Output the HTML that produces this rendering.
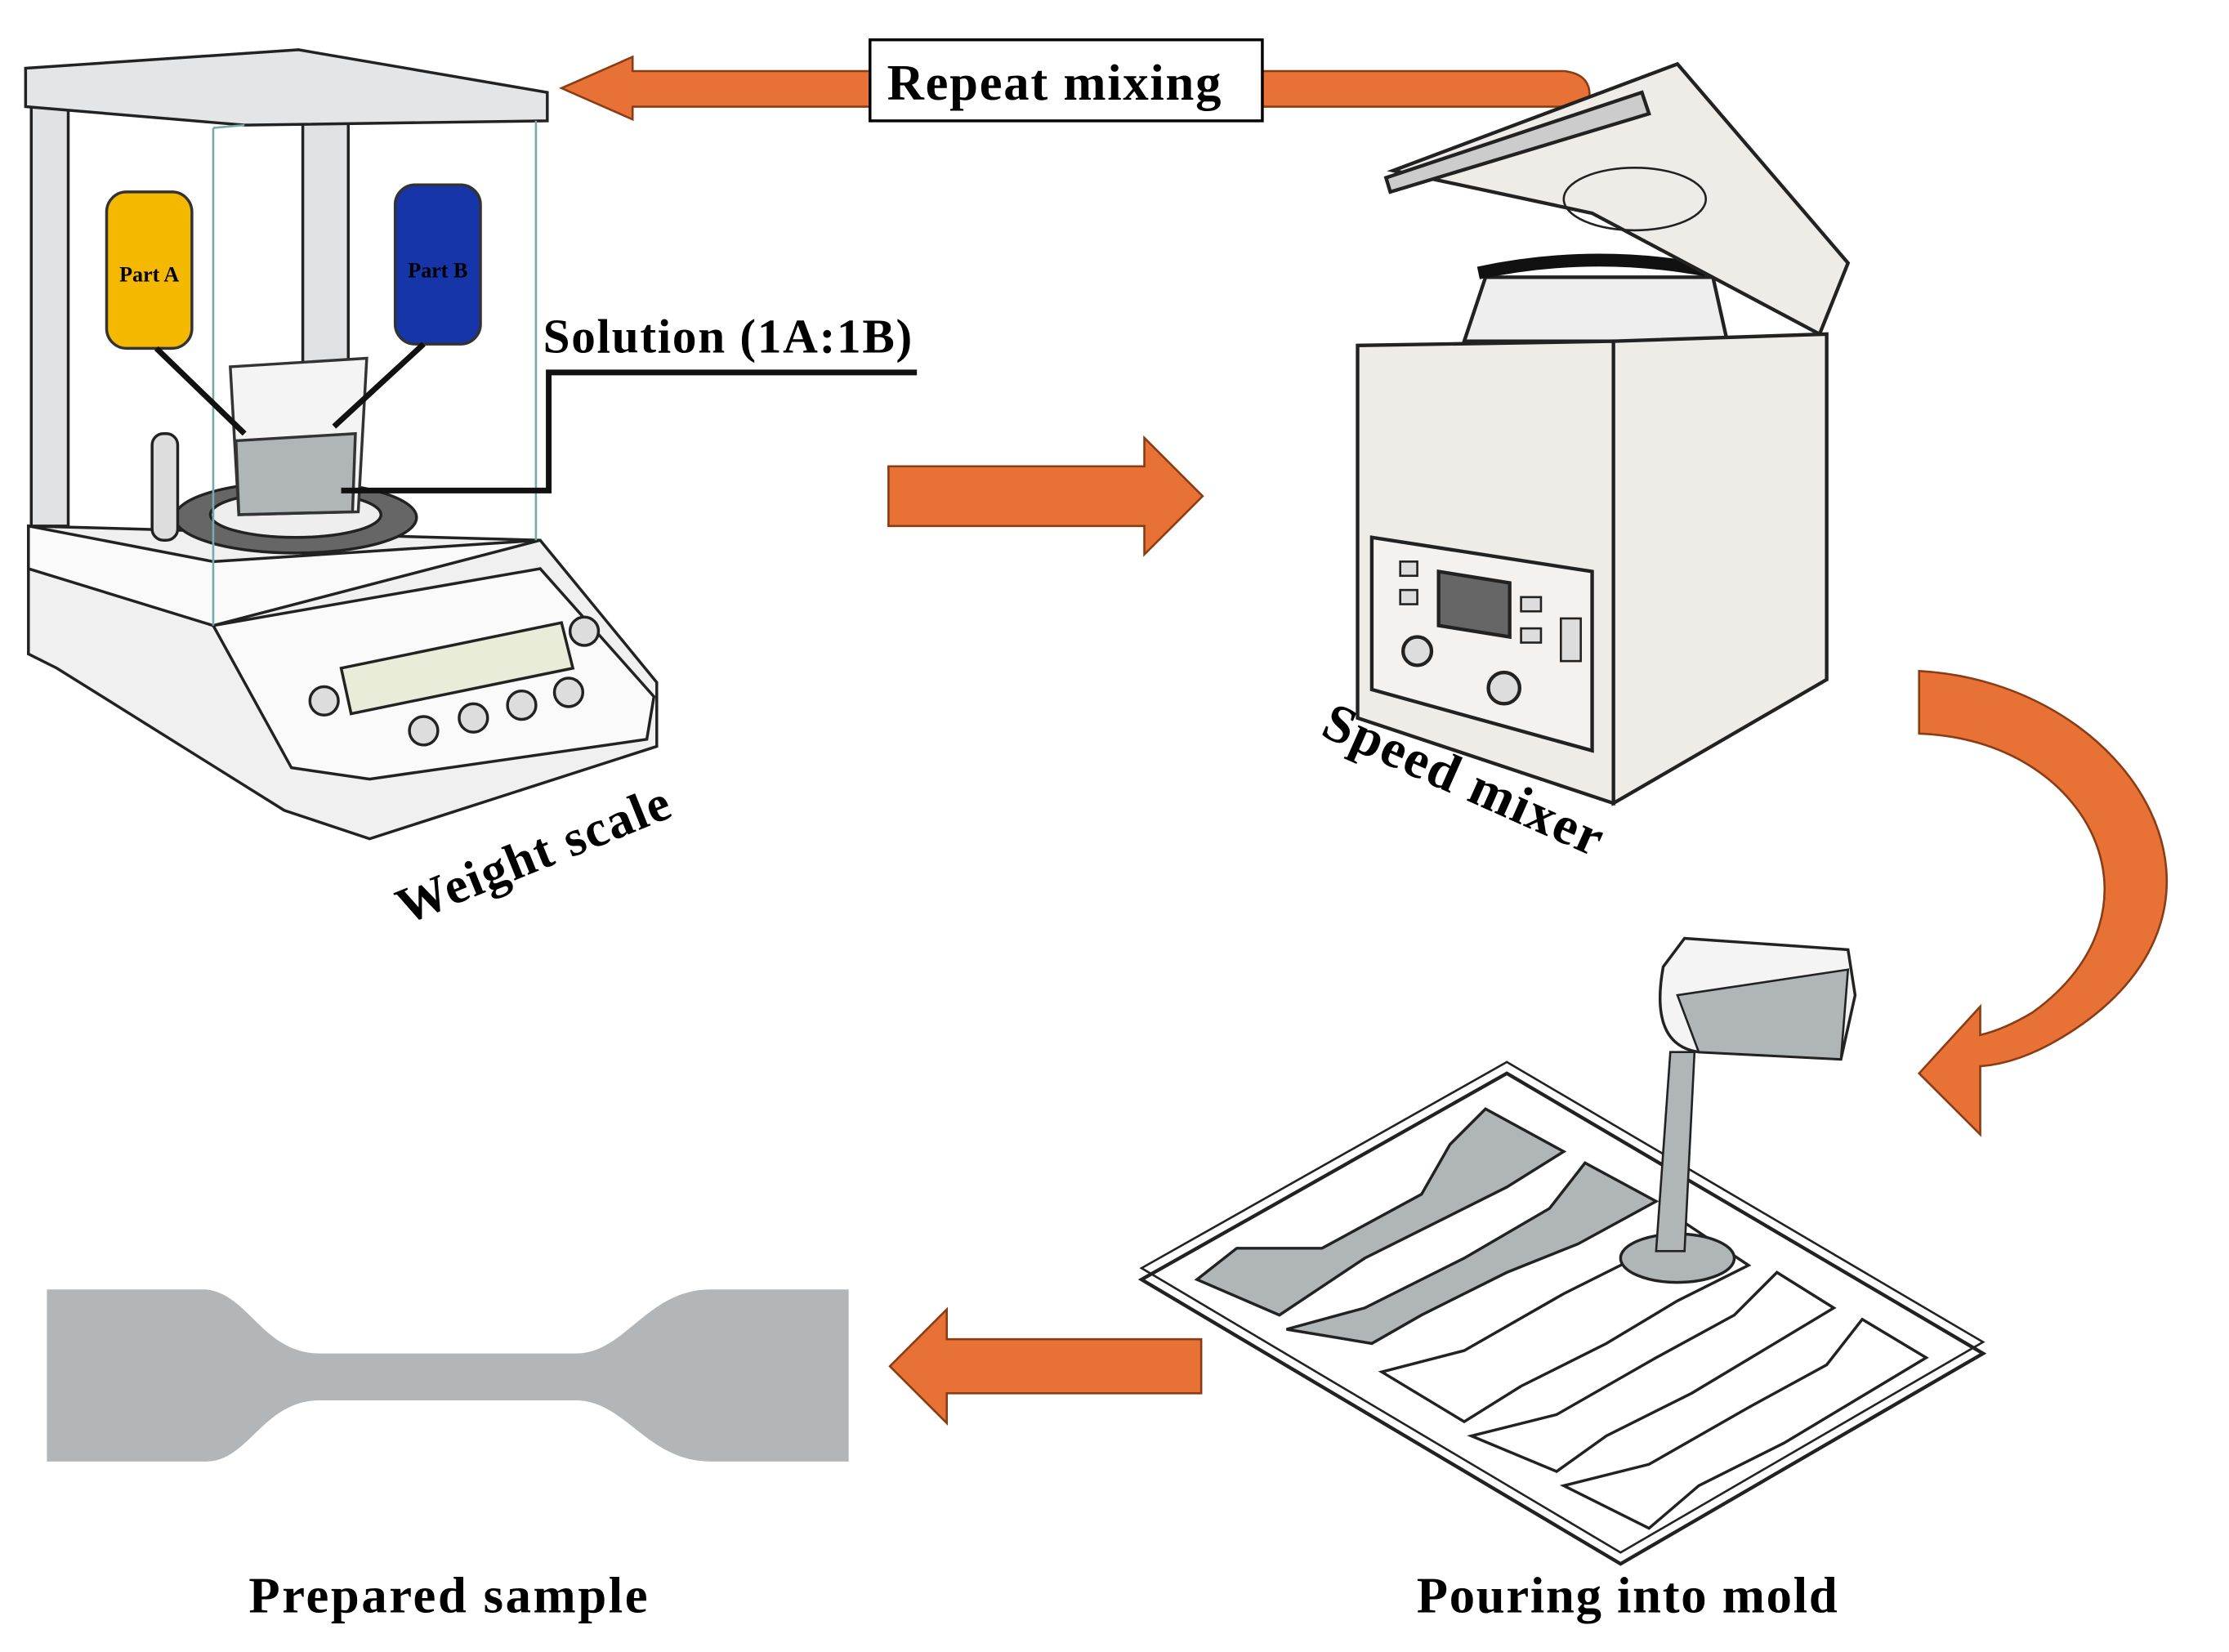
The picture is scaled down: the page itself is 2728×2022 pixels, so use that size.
<!DOCTYPE html>
<html><head><meta charset="utf-8"><style>html,body{margin:0;padding:0;background:#fff}svg{display:block}</style></head>
<body>
<svg width="2728" height="2022" viewBox="0 0 1568 1162" preserveAspectRatio="none" xmlns="http://www.w3.org/2000/svg" font-family="Liberation Serif, serif">
<rect width="1568" height="1162" fill="#fff"/>
<!-- Repeat mixing arrow -->
<path d="M888,50 L1100,50 Q1120,52 1118,70 L1118,75 L888,75 Z" fill="#E87235" stroke="#8a3d15" stroke-width="1.5"/>
<path d="M612,50 L445,50 L445,40 L395,62 L445,84 L445,75 L612,75 Z" fill="#E87235" stroke="#8a3d15" stroke-width="1.5"/>
<rect x="612" y="28" width="276" height="57" fill="#fff" stroke="#000" stroke-width="2"/>
<text x="742" y="70" font-size="36" font-weight="bold" text-anchor="middle" letter-spacing="1">Repeat mixing</text>
<!-- right arrow -->
<path d="M625,328 L805,328 L805,308 L846,349 L805,390 L805,370 L625,370 Z" fill="#E87235" stroke="#8a3d15" stroke-width="1.5"/>
<!-- left arrow bottom -->
<path d="M845,942 L666,942 L666,921 L626,961 L666,1001 L666,980 L845,980 Z" fill="#E87235" stroke="#8a3d15" stroke-width="1.5"/>
<!-- curved arrow -->
<path d="M1350,472 C1500,480 1600,640 1450,730 Q1420,748 1393,750 L1393,798 L1350,755 L1393,708 L1393,728 Q1410,724 1430,712 C1530,640 1470,520 1350,516 Z" fill="#E87235" stroke="#8a3d15" stroke-width="1.5"/>
<!-- Weight scale -->
<g stroke="#222" stroke-width="2" fill="#e6e7e8">
<path d="M20,370 L380,380 L462,480 L462,525 L260,590 L200,570 L40,470 L20,460 Z" fill="#f0f0f0"/>
<path d="M150,440 L380,400 L460,490 L455,520 L260,548 L205,540 Z" fill="#fafafa"/>
<polygon points="240,470 395,438 403,470 247,502" fill="#e8ecd8"/>
<circle cx="228" cy="493" r="10" fill="#ddd"/><circle cx="298" cy="514" r="10" fill="#ddd"/><circle cx="333" cy="505" r="10" fill="#ddd"/><circle cx="367" cy="496" r="10" fill="#ddd"/><circle cx="400" cy="487" r="10" fill="#ddd"/><circle cx="411" cy="444" r="10" fill="#ddd"/>
<path d="M20,370 L150,395 L380,380 L150,440 L20,400 Z" fill="#fafafa"/>
<ellipse cx="208" cy="364" rx="85" ry="25" fill="#666"/>
<ellipse cx="208" cy="362" rx="60" ry="16" fill="#eee"/>
<rect x="22" y="60" width="26" height="310" fill="#e0e1e3"/>
<rect x="213" y="85" width="32" height="225" fill="#e0e1e3"/>
<path d="M18,48 L210,35 L385,65 L385,85 L172,88 L18,75 Z" fill="#e4e5e7"/>
<rect x="107" y="305" width="18" height="75" rx="8" fill="#ddd"/>
</g>
<g stroke="#7aa" stroke-width="1.5" fill="none"><line x1="150" y1="90" x2="150" y2="440"/><line x1="377" y1="85" x2="377" y2="380"/><line x1="172" y1="88" x2="150" y2="90"/></g>
<rect x="75" y="135" width="60" height="110" rx="14" fill="#F5B800" stroke="#333" stroke-width="2"/>
<text x="105" y="198" font-size="15" font-weight="bold" text-anchor="middle">Part A</text>
<rect x="278" y="130" width="60" height="112" rx="14" fill="#1535A8" stroke="#333" stroke-width="2"/>
<text x="308" y="195" font-size="15" font-weight="bold" text-anchor="middle">Part B</text>
<path d="M162,258 L258,252 L252,360 L168,362 Z" fill="#f4f4f4" stroke="#333" stroke-width="2"/>
<path d="M166,310 L250,305 L248,360 L168,362 Z" fill="#b0b6b8" stroke="#333" stroke-width="2"/>
<g stroke="#111" stroke-width="4"><line x1="110" y1="245" x2="172" y2="305"/><line x1="298" y1="242" x2="235" y2="300"/></g>
<polyline points="240,345 386,345 386,262 645,262" fill="none" stroke="#111" stroke-width="4"/>
<text x="382" y="248" font-size="34" font-weight="bold" letter-spacing="1">Solution (1A:1B)</text>
<text x="380" y="612" font-size="36" font-weight="bold" text-anchor="middle" letter-spacing="1" transform="rotate(-22 380 612)">Weight scale</text>
<!-- Speed mixer -->
<g stroke="#222" stroke-width="2.5" fill="#efebe7">
<path d="M1030,240 L1045,195 L1205,195 L1215,240 Z" fill="#eee"/>
<path d="M1040,192 Q1120,175 1200,190" fill="none" stroke="#111" stroke-width="9"/>
<path d="M980,120 L1180,45 L1300,185 L1280,235 L1120,150 Z"/>
<ellipse cx="1150" cy="140" rx="50" ry="22" fill="none" stroke-width="1.5"/>
<path d="M975,125 L1155,65 L1160,80 L978,135 Z" fill="#ccc"/>
<path d="M955,243 L1135,240 L1135,565 L955,505 Z"/>
<path d="M1135,240 L1285,235 L1285,478 L1135,565 Z"/>
<path d="M965,378 L1120,402 L1120,528 L965,485 Z" fill="#f4f1ee"/>
<path d="M1012,402 L1062,410 L1062,448 L1012,440 Z" fill="#666"/>
<circle cx="997" cy="458" r="10" fill="#ddd"/><circle cx="1058" cy="484" r="11" fill="#ddd"/>
<rect x="985" y="395" width="12" height="10" fill="#ddd" stroke-width="1.5"/><rect x="985" y="415" width="12" height="10" fill="#ddd" stroke-width="1.5"/>
<rect x="1070" y="420" width="14" height="10" fill="#ddd" stroke-width="1.5"/><rect x="1070" y="442" width="14" height="10" fill="#ddd" stroke-width="1.5"/>
<rect x="1098" y="435" width="14" height="30" fill="#ddd" stroke-width="1.5"/>
</g>
<text x="1025" y="560" font-size="38" font-weight="bold" text-anchor="middle" letter-spacing="1" transform="rotate(24 1025 560)">Speed mixer</text>
<!-- Mold -->
<polygon points="803,900 1060,755 1395,952 1140,1100" fill="#fff" stroke="#222" stroke-width="2.5"/>
<polygon points="803,900 1060,755 1395,952 1140,1100" fill="none" stroke="#222" stroke-width="1.5" transform="translate(0,-8)"/>
<g stroke="#222" stroke-width="2">
<path d="M842,900 L870,878 L930,878 L1000,840 L1020,805 L1045,780 L1100,810 L1060,835 L1020,855 L960,885 L930,905 L900,925 Z" fill="#b0b6b8"/>
<path d="M905,935 L960,920 L1030,885 L1090,850 L1115,818 L1165,845 L1110,875 L1060,895 L1000,925 L965,945 Z" fill="#b0b6b8"/>
<path d="M972,965 L1030,950 L1100,910 L1160,880 L1185,860 L1230,890 L1180,915 L1130,945 L1070,975 L1030,1000 Z" fill="#fff"/>
<path d="M1035,1010 L1095,995 L1165,955 L1220,925 L1250,895 L1290,920 L1240,950 L1190,980 L1130,1010 L1095,1035 Z" fill="#fff"/>
<path d="M1100,1045 L1160,1030 L1230,990 L1285,960 L1310,928 L1355,955 L1305,985 L1255,1015 L1195,1045 L1160,1075 Z" fill="#fff"/>
</g>
<ellipse cx="1180" cy="885" rx="40" ry="17" fill="#b0b6b8" stroke="#222" stroke-width="2"/>
<path d="M1175,740 L1165,880 L1185,880 L1192,740 Z" fill="#b0b6b8" stroke="#222" stroke-width="1.5"/>
<path d="M1185,660 L1300,668 L1305,700 L1295,745 L1195,740 Q1160,735 1170,680 Z" fill="#f4f4f4" stroke="#222" stroke-width="2"/>
<path d="M1180,700 L1300,682 L1295,745 L1195,740 Z" fill="#b0b6b8" stroke="#222" stroke-width="1.5"/>
<!-- Prepared sample -->
<path d="M33,907 L145,907 C175,910 185,952 225,952 L405,952 C440,952 455,907 500,907 L597,907 L597,1028 L500,1028 C455,1028 440,985 405,985 L225,985 C185,985 175,1028 145,1028 L33,1028 Z" fill="#B3B6B8"/>
<text x="316" y="1134" font-size="36" font-weight="bold" text-anchor="middle" letter-spacing="1.5">Prepared sample</text>
<text x="1145" y="1134" font-size="36" font-weight="bold" text-anchor="middle" letter-spacing="1">Pouring into mold</text>
</svg>
</body></html>
